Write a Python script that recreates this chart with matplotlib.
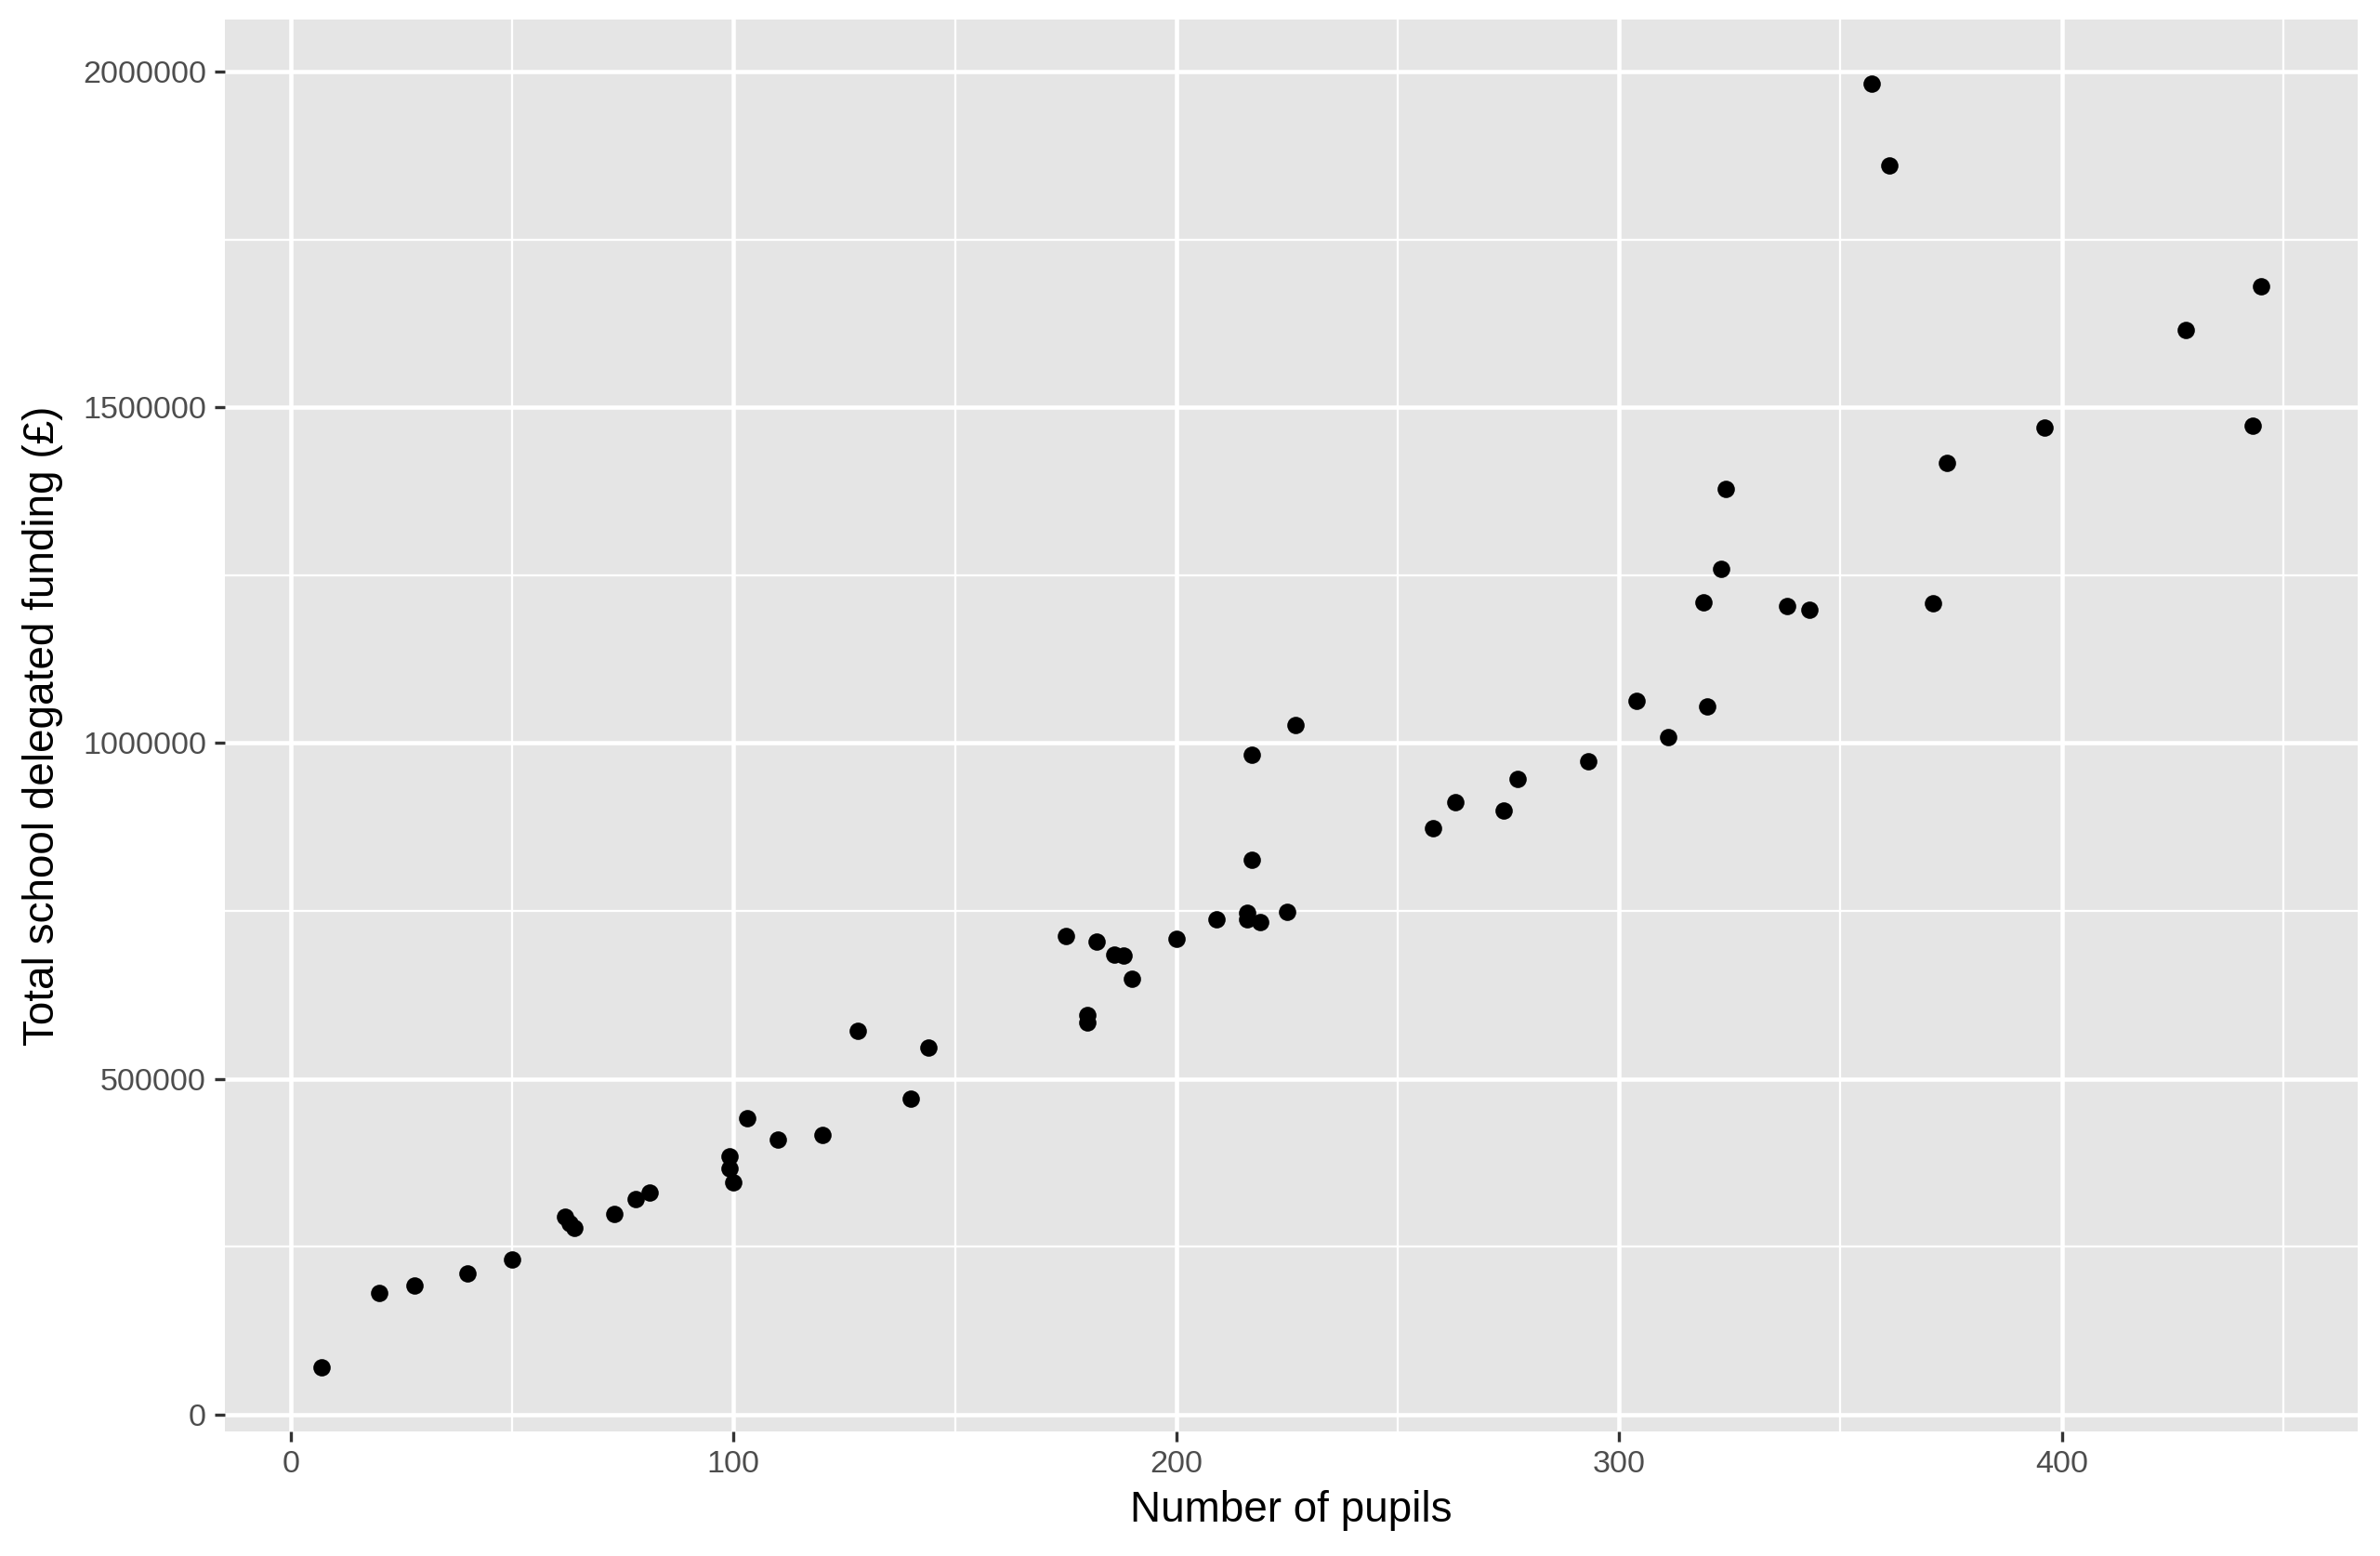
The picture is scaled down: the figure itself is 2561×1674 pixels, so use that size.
import numpy as np
import matplotlib
matplotlib.use("Agg")
import matplotlib.pyplot as plt
from matplotlib.ticker import MultipleLocator, FuncFormatter

# pupils vs. total delegated funding
pupils = [7, 20, 28, 40, 50, 62, 63, 64, 73, 78, 81, 99, 99, 100, 103, 110,
          120, 128, 140, 144, 175, 180, 180, 182, 186, 188, 190, 200, 209,
          216, 216, 217, 217, 219, 225, 227, 258, 263, 274, 277, 293, 304,
          311, 319, 320, 323, 324, 338, 343, 357, 361, 371, 374, 396, 428,
          443, 445]
funding = [70000, 181000, 192000, 210000, 231000, 294000, 285000, 278000,
           299000, 321000, 330000, 385000, 366000, 346000, 441000, 409000,
           416000, 572000, 470000, 547000, 713000, 595000, 584000, 704000,
           685000, 683000, 649000, 708000, 738000, 747000, 738000, 982000,
           826000, 733000, 749000, 1027000, 873000, 912000, 900000, 946000,
           973000, 1063000, 1009000, 1210000, 1054000, 1260000, 1378000,
           1204000, 1199000, 1982000, 1860000, 1208000, 1418000, 1470000,
           1615000, 1473000, 1681000]

plt.rcParams['font.family'] = ['Liberation Sans', 'DejaVu Sans']

fig = plt.figure(figsize=(2562/300, 1674/300), dpi=300)
ax = fig.add_axes([0.0944, 0.080, 0.896, 0.9073])
ax.set_facecolor('#E5E5E5')

ax.scatter(pupils, funding, s=20, color='black', linewidths=0, zorder=3)

x = np.array(pupils)
y = np.array(funding)
xr = x.max() - x.min()
yr = y.max() - y.min()
ax.set_xlim(x.min() - 0.05*xr, x.max() + 0.05*xr)
ax.set_ylim(y.min() - 0.05*yr, y.max() + 0.05*yr)

ax.xaxis.set_major_locator(MultipleLocator(100))
ax.xaxis.set_minor_locator(MultipleLocator(50))
ax.yaxis.set_major_locator(MultipleLocator(500000))
ax.yaxis.set_minor_locator(MultipleLocator(250000))
ax.yaxis.set_major_formatter(FuncFormatter(lambda v, p: '%d' % v))

ax.grid(which='major', color='white', linewidth=1.1)
ax.grid(which='minor', color='white', linewidth=0.55)
ax.set_axisbelow(True)

for s in ax.spines.values():
    s.set_visible(False)

ax.tick_params(which='major', length=2.75, width=0.8, color='#333333',
               labelsize=8.2, labelcolor='#4D4D4D', pad=2)
ax.tick_params(which='minor', length=0)

ax.set_xlabel('Number of pupils', fontsize=11, labelpad=3)
ax.set_ylabel('Total school delegated funding (£)', fontsize=11, labelpad=5)

plt.savefig('out.png', dpi=300)
